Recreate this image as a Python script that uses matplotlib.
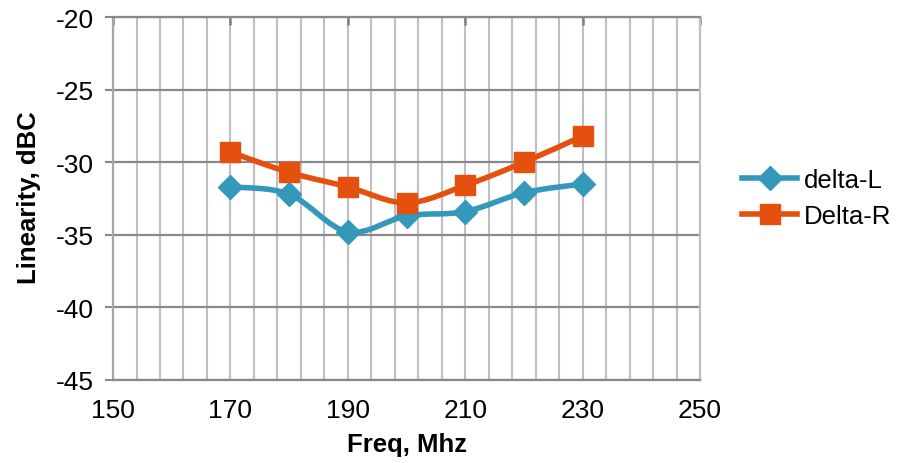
import matplotlib.pyplot as plt
from matplotlib.path import Path
from matplotlib.patches import PathPatch
from matplotlib.lines import Line2D
from matplotlib.ticker import FixedLocator, MultipleLocator

plt.rcParams['font.family'] = ['Liberation Sans', 'DejaVu Sans']
plt.rcParams['axes.unicode_minus'] = False

freq = [170, 180, 190, 200, 210, 220, 230]
delta_l = [-31.7, -32.2, -34.8, -33.7, -33.4, -32.1, -31.5]
delta_r = [-29.3, -30.7, -31.7, -32.8, -31.6, -30.0, -28.2]
x_major = [150, 170, 190, 210, 230, 250]

blue = '#3498BA'
orange = '#E6500E'


def smooth_path(x, y):
    # excel style smoothed line: cubic bezier through each point
    verts = [(x[0], y[0])]
    codes = [Path.MOVETO]
    n = len(x)
    for i in range(n - 1):
        x0, y0 = (x[i - 1], y[i - 1]) if i > 0 else (x[i], y[i])
        x3, y3 = (x[i + 2], y[i + 2]) if i + 2 < n else (x[i + 1], y[i + 1])
        c1 = (x[i] + (x[i + 1] - x0) / 6, y[i] + (y[i + 1] - y0) / 6)
        c2 = (x[i + 1] - (x3 - x[i]) / 6, y[i + 1] - (y3 - y[i]) / 6)
        verts += [c1, c2, (x[i + 1], y[i + 1])]
        codes += [Path.CURVE4] * 3
    return Path(verts, codes)


fig = plt.figure(figsize=(9.02, 4.64), dpi=100)
ax = fig.add_axes([0.1253, 0.179, 0.6508, 0.782])

for ys, col, mk, ms in [(delta_l, blue, 'D', 12.5), (delta_r, orange, 's', 14)]:
    ax.add_patch(PathPatch(smooth_path(freq, ys), fill=False, ec=col, lw=4,
                           capstyle='round', joinstyle='round', zorder=3))
    ax.plot(freq, ys, ls='none', marker=mk, ms=ms, color=col, mec=col, zorder=4)

ax.set_xlim(150, 250)
ax.set_ylim(-45, -20)
ax.xaxis.set_major_locator(FixedLocator(x_major))
ax.xaxis.set_minor_locator(FixedLocator(range(150, 251, 4)))
ax.yaxis.set_major_locator(MultipleLocator(5))

ax.grid(True, axis='x', which='both', color='#BFBFBF', lw=1.5)
ax.grid(True, axis='y', which='major', color='#898989', lw=1.6)
ax.set_axisbelow(True)

ax.tick_params(axis='x', which='major', bottom=False, top=True, direction='in',
               length=6, width=1.8, color='#7F7F7F', labelsize=19, pad=13)
ax.tick_params(axis='x', which='minor', bottom=False, top=False)
ax.tick_params(axis='y', which='major', left=True, direction='out', length=6,
               width=1.5, color='#898989', labelsize=19, pad=8)

ax.spines['top'].set_color('#898989')
ax.spines['bottom'].set_color('#898989')
ax.spines['left'].set_color('#A6A6A6')
ax.spines['right'].set_color('#BFBFBF')
for s in ax.spines.values():
    s.set_linewidth(1.6)

fig.text(0.032, 0.575, 'Linearity, dBC', rotation=90, ha='center', va='center',
         fontsize=18.5, fontweight='bold')
fig.text(0.4507, 0.04, 'Freq, Mhz', ha='center', va='center',
         fontsize=18.5, fontweight='bold')

handles = [Line2D([], [], color=blue, lw=4, marker='D', ms=12.5),
           Line2D([], [], color=orange, lw=4, marker='s', ms=14)]
fig.legend(handles, ['delta-L', 'Delta-R'], loc='center left',
           bbox_to_anchor=(0.8226, 0.571), frameon=False, fontsize=18.5,
           borderpad=0, borderaxespad=0, handlelength=2.15, handletextpad=0.25,
           labelspacing=0.5)

fig.savefig('out.png', dpi=100)
